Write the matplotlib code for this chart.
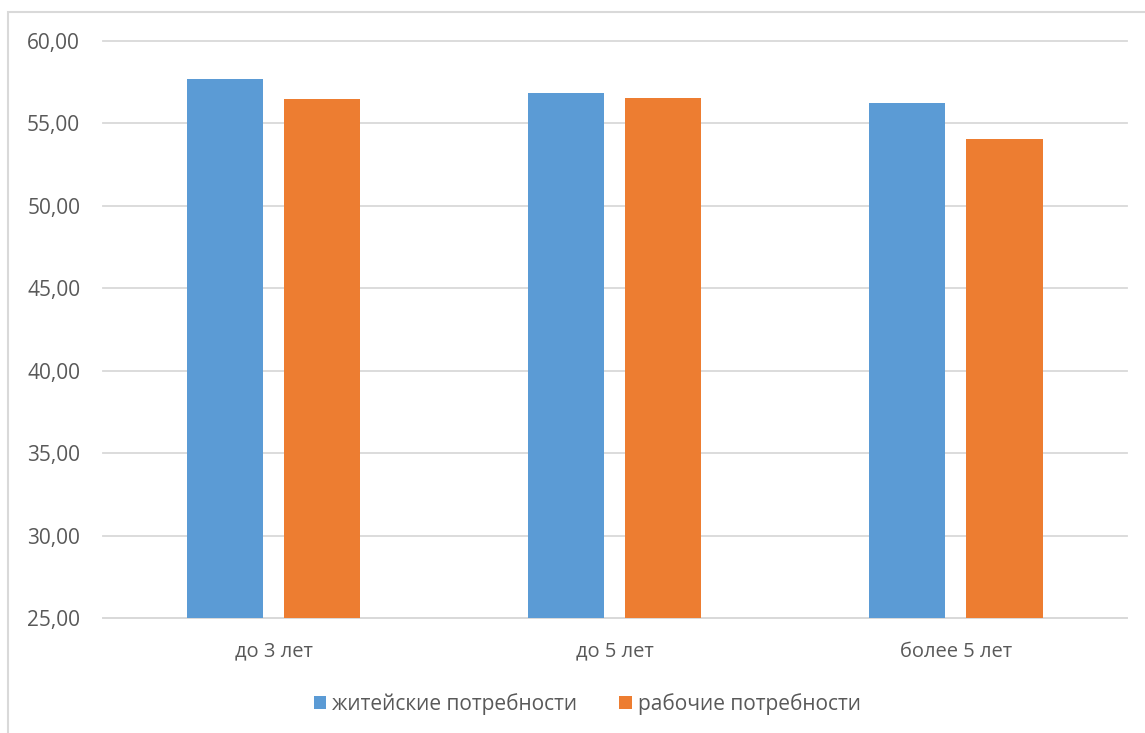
import matplotlib.pyplot as plt
import matplotlib.patches as mpatches
import numpy as np

plt.rcParams['font.family'] = ['Open Sans', 'DejaVu Sans']

# ---- data
categories = ['до 3 лет', 'до 5 лет', 'более 5 лет']
zhiteyskie = [57.70, 56.85, 56.24]
rabochie = [56.48, 56.52, 54.04]
series_names = ['житейские потребности', 'рабочие потребности']
yticks = [25, 30, 35, 40, 45, 50, 55, 60]

blue = '#5B9BD5'
orange = '#ED7D31'
txt = '#595959'
grid = '#D9D9D9'

fig = plt.figure(figsize=(11.45, 7.33), dpi=100)
ax = fig.add_axes([0.090, 0.157, 0.894, 0.787])

x = np.arange(len(categories))
w = 0.223
ax.bar(x - 0.143, zhiteyskie, w, color=blue, label=series_names[0], zorder=3)
ax.bar(x + 0.142, rabochie, w, color=orange, label=series_names[1], zorder=3)

ax.set_xlim(-0.5, 2.5)
ax.set_ylim(25, 60)
ax.set_yticks(yticks)
ax.set_yticklabels(['%d,00' % t for t in yticks])
ax.set_xticks(x)
ax.set_xticklabels(categories)

ax.yaxis.grid(True, color=grid, lw=1.3, zorder=0)
for gl in ax.get_ygridlines():
    gl.set_clip_on(False)
ax.tick_params(axis='y', length=0, pad=16.5, labelsize=15, labelcolor=txt)
ax.tick_params(axis='x', length=0, pad=17, labelsize=14.5, labelcolor=txt)
for s in ['top', 'right', 'left']:
    ax.spines[s].set_visible(False)
ax.spines['bottom'].set_color(grid)
ax.spines['bottom'].set_linewidth(1.3)

leg = fig.legend(loc='center', bbox_to_anchor=(0.513, 0.040), ncol=2,
                 frameon=False, fontsize=15, handlelength=0.6, handleheight=0.6,
                 handletextpad=0.3, columnspacing=2.0)
for t in leg.get_texts():
    t.set_color(txt)

# light frame around the chart
frame = mpatches.Rectangle((8 / 1145, -0.1), 1.2, 1 - 12 / 733 + 0.1,
                           transform=fig.transFigure, fill=False,
                           edgecolor=grid, lw=1.5, clip_on=False)
fig.patches.append(frame)

fig.savefig('out.png', dpi=100)
